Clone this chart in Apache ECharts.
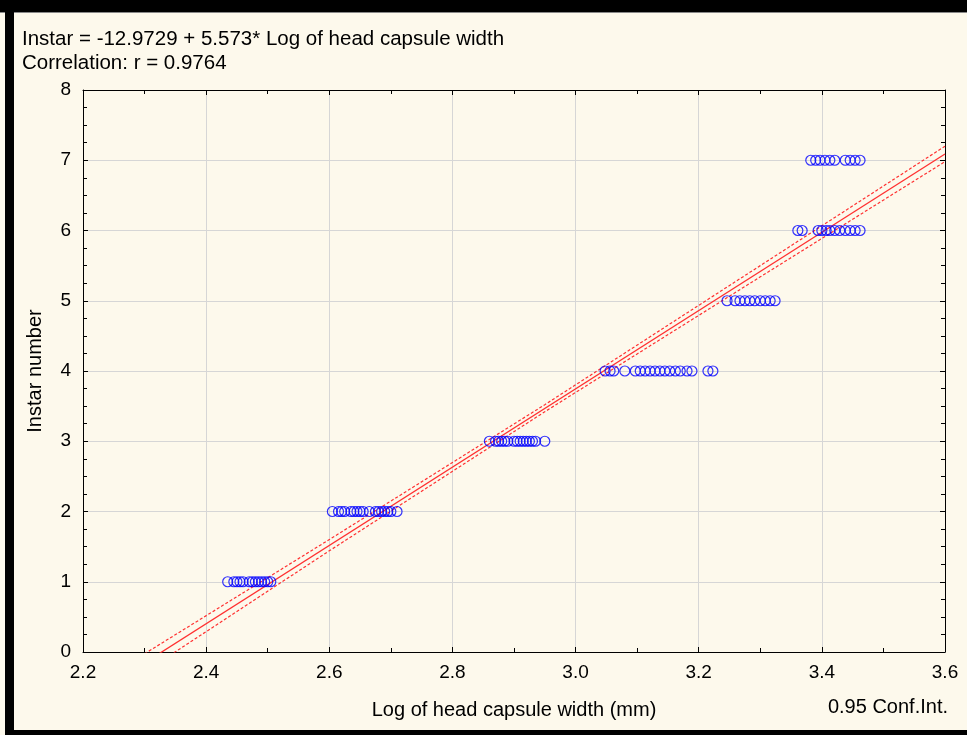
<!DOCTYPE html>
<html>
<head>
<meta charset="utf-8">
<script src="https://cdn.jsdelivr.net/npm/echarts@6/dist/echarts.min.js"></script>
<style>
  html, body { margin: 0; padding: 0; background: #ffffff; }
  #main { width: 967px; height: 735px; }
</style>
</head>
<body>
<div id="main"></div>
<script>
// observed head capsule widths (log) per instar
const instar1 = [2.435, 2.445, 2.45, 2.455, 2.46, 2.47, 2.475, 2.48, 2.485, 2.49, 2.495, 2.50, 2.505];
const instar2 = [2.605, 2.615, 2.62, 2.625, 2.635, 2.64, 2.645, 2.65, 2.655, 2.665, 2.675, 2.68, 2.685, 2.69, 2.695, 2.70, 2.71];
const instar3 = [2.86, 2.87, 2.875, 2.88, 2.885, 2.89, 2.90, 2.905, 2.91, 2.915, 2.92, 2.925, 2.93, 2.935, 2.95];
const instar4 = [3.048, 3.056, 3.062, 3.080, 3.097, 3.105, 3.113, 3.121, 3.129, 3.137, 3.145, 3.153, 3.162, 3.170, 3.181, 3.189, 3.215, 3.223];
const instar5 = [3.246, 3.259, 3.267, 3.275, 3.283, 3.291, 3.300, 3.308, 3.316, 3.324];
const instar6 = [3.361, 3.368, 3.394, 3.400, 3.407, 3.413, 3.421, 3.429, 3.438, 3.446, 3.454, 3.462];
const instar7 = [3.382, 3.390, 3.397, 3.405, 3.413, 3.421, 3.438, 3.446, 3.454, 3.462];

// fitted line and 0.95 conf. band
const fitX = [2.30, 3.60];
const fitY = [-0.155, 7.09];
const bandX = [2.30, 2.60, 2.95, 3.30, 3.60];
const bandUpper = [-0.025, 1.60, 3.52, 5.50, 7.20];
const bandLower = [-0.285, 1.44, 3.42, 5.34, 6.98];

const titleLines = ['Instar = -12.9729 + 5.573* Log of head capsule width', 'Correlation: r = 0.9764'];

const font = 'Liberation Sans, Arial, sans-serif';
const red = '#ff3030';

let points = [];
[instar1, instar2, instar3, instar4, instar5, instar6, instar7].forEach((xs, i) => {
    xs.forEach(x => points.push([x, i + 1]));
});

function pairs(xs, ys) {
    return xs.map((x, i) => [x, ys[i]]);
}

const axisCommon = {
    axisLine: {show: true, onZero: false, lineStyle: {color: '#000', width: 1}},
    axisTick: {show: true, inside: true, length: 5, lineStyle: {color: '#000'}},
};

let chart = echarts.init(document.getElementById('main'));
chart.setOption({
    backgroundColor: '#fdf9ec',
    animation: false,
    grid: {left: 83, right: 22, top: 90, bottom: 83},
    xAxis: [
        Object.assign({
            type: 'value', min: 2.2, max: 3.6, interval: 0.2, position: 'bottom',
            minorTick: {show: true, splitNumber: 2, length: 4, lineStyle: {color: '#000'}},
            splitLine: {show: true, lineStyle: {color: '#d6d6d6', width: 1}},
            axisLabel: {color: '#000', fontSize: 19, fontFamily: font, margin: 11,
                formatter: v => v.toFixed(1)},
            name: 'Log of head capsule width (mm)', nameLocation: 'middle', nameGap: 48,
            nameTextStyle: {color: '#000', fontSize: 20, fontFamily: font}
        }, axisCommon),
        Object.assign({
            type: 'value', min: 2.2, max: 3.6, interval: 0.2, position: 'top',
            minorTick: {show: true, splitNumber: 2, length: 4, lineStyle: {color: '#000'}},
            splitLine: {show: false}, axisLabel: {show: false}
        }, axisCommon)
    ],
    yAxis: [
        Object.assign({
            type: 'value', min: 0, max: 8, interval: 1, position: 'left',
            minorTick: {show: true, splitNumber: 4, length: 4, lineStyle: {color: '#000'}},
            splitLine: {show: true, lineStyle: {color: '#d6d6d6', width: 1}},
            axisLabel: {color: '#000', fontSize: 19, fontFamily: font, margin: 12},
            name: 'Instar number', nameLocation: 'middle', nameGap: 38,
            nameTextStyle: {color: '#000', fontSize: 20, fontFamily: font}
        }, axisCommon),
        Object.assign({
            type: 'value', min: 0, max: 8, interval: 1, position: 'right',
            minorTick: {show: true, splitNumber: 4, length: 4, lineStyle: {color: '#000'}},
            splitLine: {show: false}, axisLabel: {show: false}
        }, axisCommon)
    ],
    graphic: [
        {type: 'rect', shape: {x: 0, y: 0, width: 967, height: 12}, style: {fill: '#000'}},
        {type: 'rect', shape: {x: 0, y: 12, width: 967, height: 1}, style: {fill: '#888'}},
        {type: 'rect', shape: {x: 5, y: 0, width: 9, height: 735}, style: {fill: '#000'}},
        {type: 'rect', shape: {x: 5, y: 730, width: 962, height: 5}, style: {fill: '#000'}},
        {type: 'text', left: 22, top: 29, style: {text: titleLines[0], fill: '#000', fontSize: 20.5, fontFamily: font}},
        {type: 'text', left: 22, top: 53, style: {text: titleLines[1], fill: '#000', fontSize: 20.5, fontFamily: font}},
        {type: 'text', right: 19, top: 697, style: {text: '0.95 Conf.Int.', fill: '#000', fontSize: 20, fontFamily: font}}
    ],
    series: [
        {
            type: 'line', data: pairs(bandX, bandUpper), symbol: 'none', clip: true, z: 3,
            lineStyle: {color: red, width: 1.2, type: [3, 2]}
        },
        {
            type: 'line', data: pairs(bandX, bandLower), symbol: 'none', clip: true, z: 3,
            lineStyle: {color: red, width: 1.2, type: [3, 2]}
        },
        {
            type: 'line', data: pairs(fitX, fitY), symbol: 'none', clip: true, z: 3,
            lineStyle: {color: red, width: 1.3}
        },
        {
            type: 'scatter', data: points, symbol: 'circle', symbolSize: 10, z: 4,
            itemStyle: {color: 'rgba(0,0,0,0)', borderColor: '#0000ff', borderWidth: 1.2}
        }
    ]
});
</script>
</body>
</html>
